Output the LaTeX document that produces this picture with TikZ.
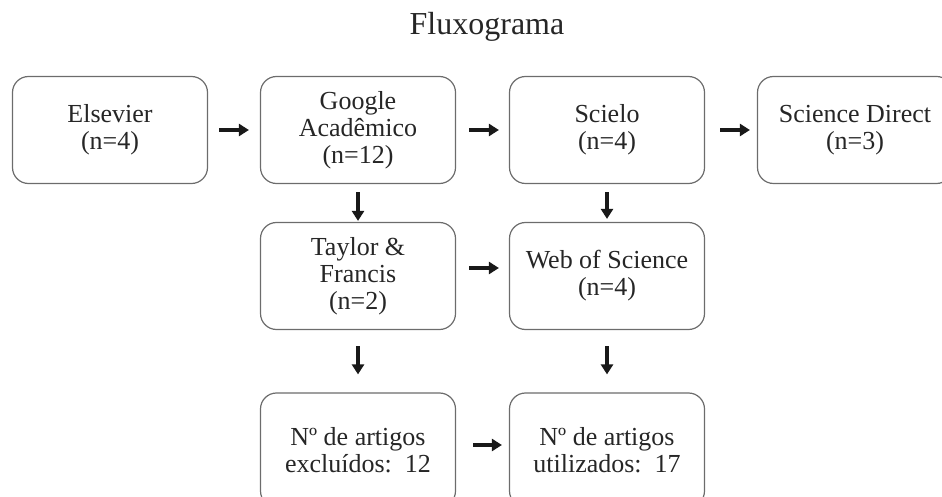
\documentclass[tikz,border=0pt]{standalone}
\usepackage{fontspec}
\setmainfont{Liberation Serif}
\usetikzlibrary{arrows.meta}

\tikzset{
  caixa/.style={draw=gray!85!black, line width=0.6pt, rounded corners=8pt,
    minimum width=97.5pt, minimum height=53.5pt, align=center,
    font=\fontsize{13}{13.5}\selectfont, text=black!85},
  seta/.style={-{Triangle[length=5pt,width=6pt]}, line width=1.6pt, black!90}
}

\begin{document}
\begin{tikzpicture}[x=0.5pt, y=-0.5pt]
 		\useasboundingbox (0,0) rectangle (942,497);
 		%title
 		\node[font=\fontsize{16}{18}\selectfont, text=black!85] (titulo) at (487,27) {Fluxograma};
 		%boxes
 		\node[caixa] (elsevier) at (110,130) {Elsevier\\(n=4)};
 		\node[caixa] (google) at (358,130) {Google\\Acadêmico\\(n=12)};
 		\node[caixa] (scielo) at (607,130) {Scielo\\(n=4)};
 		\node[caixa] (direct) at (855,130) {Science Direct\\(n=3)};
 		\node[caixa] (taylor) at (358,276) {Taylor \&\\Francis\\(n=2)};
 		\node[caixa] (web) at (607,276) {Web of Science\\(n=4)};
 		\node[caixa, minimum height=57pt] (excluidos) at (358,450) {Nº de artigos\\excluídos:~~12};
 		\node[caixa, minimum height=57pt] (utilizados) at (607,450) {Nº de artigos\\utilizados:~~17};
 		%arrows
 		\draw[seta, shorten <=5.5pt, shorten >=5.5pt] (elsevier) -- (google);
 		\draw[seta, shorten <=6.5pt, shorten >=5pt] (google) -- (scielo);
 		\draw[seta, shorten <=7.5pt, shorten >=3.5pt] (scielo) -- (direct);
 		\draw[seta, shorten <=4pt, shorten >=0.5pt] (google) -- (taylor);
 		\draw[seta, shorten <=4pt, shorten >=1.5pt] (scielo) -- (web);
 		\draw[seta, shorten <=6.5pt, shorten >=5pt] ([yshift=4pt]taylor.east) -- ([yshift=4pt]web.west);
 		\draw[seta, shorten <=8pt, shorten >=9pt] (taylor) -- (excluidos);
 		\draw[seta, shorten <=8pt, shorten >=9pt] (web) -- (utilizados);
 		\draw[seta, shorten <=8.5pt, shorten >=3.5pt] ([yshift=2.5pt]excluidos.east) -- ([yshift=2.5pt]utilizados.west);
\end{tikzpicture}
\end{document}
